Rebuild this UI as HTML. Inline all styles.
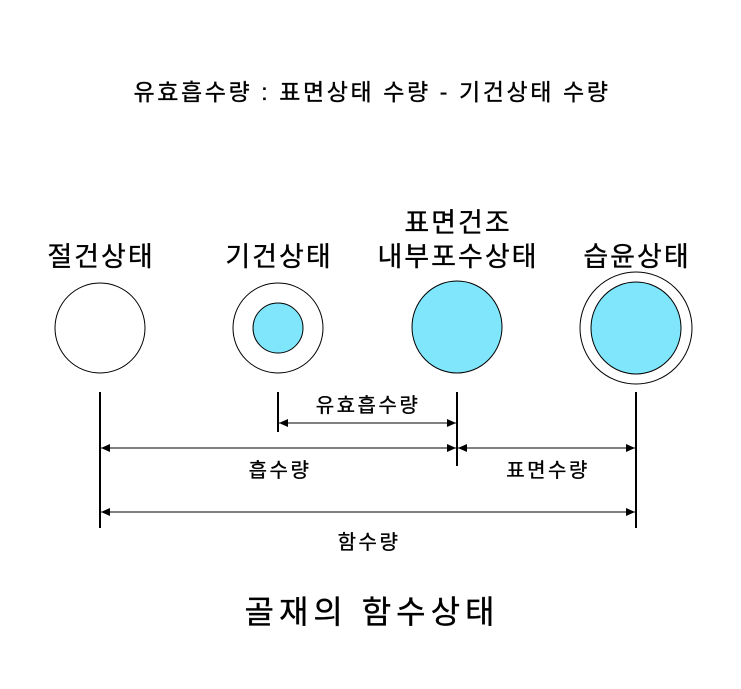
<!DOCTYPE html>
<html><head><meta charset="utf-8"><style>
html,body{margin:0;padding:0;background:#fff;}
svg text{font-family:"Liberation Sans","Noto Sans CJK KR",sans-serif;fill:#000;stroke:#000;stroke-width:0.35;}
</style></head><body>
<svg width="741" height="684" viewBox="0 0 741 684" xmlns="http://www.w3.org/2000/svg">
<defs><marker id="a" markerWidth="10" markerHeight="10" refX="9" refY="5" orient="auto-start-reverse" markerUnits="userSpaceOnUse"><path d="M0,1 L9,5 L0,9 z" fill="#000"/></marker></defs>
<text x="372" y="100" font-size="23" letter-spacing="2.6" text-anchor="middle">유효흡수량 : 표면상태 수량 - 기건상태 수량</text>
<g font-size="27" text-anchor="middle" letter-spacing="2">
<text x="101" y="266">절건상태</text>
<text x="279" y="266">기건상태</text>
<text x="458" y="232">표면건조</text>
<text x="458" y="266">내부포수상태</text>
<text x="637" y="266">습윤상태</text>
</g>
<g stroke="#000" stroke-width="1">
<ellipse cx="100" cy="328" rx="45" ry="45" fill="#fff"/>
<ellipse cx="278" cy="328" rx="45" ry="45" fill="#fff"/>
<ellipse cx="278" cy="328" rx="25" ry="25" fill="#80e6fb"/>
<ellipse cx="457" cy="327" rx="45" ry="46" fill="#80e6fb"/>
<ellipse cx="636" cy="328" rx="56" ry="56" fill="#fff"/>
<ellipse cx="636" cy="328" rx="45" ry="46" fill="#80e6fb"/>
</g>
<g stroke="#000" stroke-width="2">
<line x1="100" y1="392" x2="100" y2="528"/>
<line x1="278" y1="392" x2="278" y2="432"/>
<line x1="457" y1="392" x2="457" y2="466"/>
<line x1="636" y1="392" x2="636" y2="528"/>
</g>
<g stroke="#000" stroke-width="1" marker-start="url(#a)" marker-end="url(#a)">
<line x1="279" y1="423" x2="456" y2="423"/>
<line x1="101" y1="448" x2="456" y2="448"/>
<line x1="458" y1="448" x2="635" y2="448"/>
<line x1="101" y1="512" x2="635" y2="512"/>
</g>
<g font-size="20" text-anchor="middle" letter-spacing="2.5">
<text x="368" y="412">유효흡수량</text>
<text x="280" y="477">흡수량</text>
<text x="548" y="477">표면수량</text>
<text x="369" y="549">함수량</text>
</g>
<text x="372" y="623" font-size="32" letter-spacing="5" text-anchor="middle">골재의 함수상태</text>
</svg>
</body></html>
